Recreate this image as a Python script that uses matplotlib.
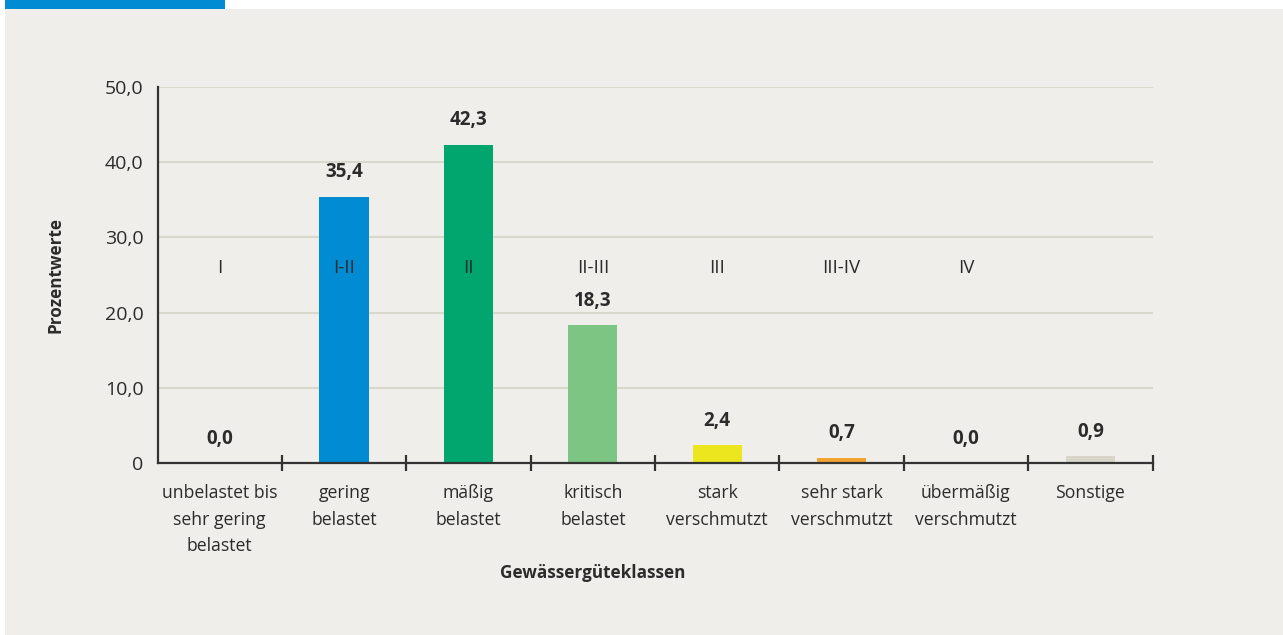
import matplotlib
matplotlib.use("Agg")
import matplotlib.pyplot as plt
from matplotlib.patches import Rectangle
from matplotlib.ticker import FixedLocator, FuncFormatter

categories = ["unbelastet bis\nsehr gering\nbelastet", "gering\nbelastet", "mäßig\nbelastet",
              "kritisch\nbelastet", "stark\nverschmutzt", "sehr stark\nverschmutzt",
              "übermäßig\nverschmutzt", "Sonstige"]
classes = ["I", "I-II", "II", "II-III", "III", "III-IV", "IV", ""]
values = [0.0, 35.4, 42.3, 18.3, 2.4, 0.7, 0.0, 0.9]
colors = ["#008BD2", "#008BD2", "#00A66E", "#7DC583", "#EBE61E", "#F2A330", "#D8D6C8", "#D8D6C8"]
yticks = [0, 10, 20, 30, 40, 50]

FONT = "Open Sans"
plt.rcParams['font.family'] = [FONT, 'DejaVu Sans']
TXT = "#2b2b2b"

W, H = 1283, 635
fig = plt.figure(figsize=(W / 100, H / 100), dpi=100, facecolor="white")
fig.patches.append(Rectangle((5 / W, 0), 1 - 5 / W, 1 - 9 / H, transform=fig.transFigure,
                             facecolor="#EFEEEA", edgecolor="none", zorder=-10))
fig.patches.append(Rectangle((5 / W, 1 - 9 / H), 220 / W, 9 / H, transform=fig.transFigure,
                             facecolor="#008BD2", edgecolor="none", zorder=-10))

left, right, bottom, top = 157.5, 1152.5, 463, 87
ax = fig.add_axes([left / W, 1 - bottom / H, (right - left) / W, (bottom - top) / H])
ax.set_facecolor("none")

x = list(range(len(categories)))
ax.bar(x, values, width=0.395, color=colors, zorder=3)

ax.set_xlim(-0.5, len(categories) - 0.5)
ax.set_ylim(0, 50)
ax.yaxis.set_major_locator(FixedLocator(yticks))
ax.yaxis.set_major_formatter(FuncFormatter(lambda v, p: "0" if v == 0 else f"{v:.1f}".replace(".", ",")))
ax.tick_params(axis="y", length=0, pad=10, labelsize=14, labelcolor=TXT)
for yv in yticks[1:]:
    ax.axhline(yv, color="#D9D8CC", lw=1.5, zorder=1)

ax.set_xticks(x)
ax.set_xticklabels(categories, fontsize=12.7, color=TXT, linespacing=1.62, va="top")
ax.set_xticks([i + 0.5 for i in x], minor=True)
ax.tick_params(axis="x", which="major", length=0, pad=15)
ax.tick_params(axis="x", which="minor", direction="inout", length=11, width=1.6, color="#333333")

for s in ["top", "right"]:
    ax.spines[s].set_visible(False)
for s in ["left", "bottom"]:
    ax.spines[s].set_color("#333333")
    ax.spines[s].set_linewidth(1.6)
    ax.spines[s].set_zorder(4)

for xi, v, c in zip(x, values, classes):
    ax.annotate(f"{v:.1f}".replace(".", ","), (xi, v), xytext=(0, 14), textcoords="offset points",
                ha="center", va="baseline", fontsize=13.5, fontweight="bold", color=TXT, zorder=5)
    if c:
        ax.text(xi, 25.9, c, ha="center", va="center", fontsize=13.5, color=TXT, zorder=5)

fig.text(55 / W, 1 - 275 / H, "Prozentwerte", rotation=90, ha="center", va="center",
         fontsize=12.3, fontweight="bold", color=TXT)
fig.text(593 / W, 1 - 573 / H, "Gewässergüteklassen", ha="center", va="center",
         fontsize=12.3, fontweight="bold", color=TXT)

fig.savefig("out.png", dpi=100, facecolor="white")
